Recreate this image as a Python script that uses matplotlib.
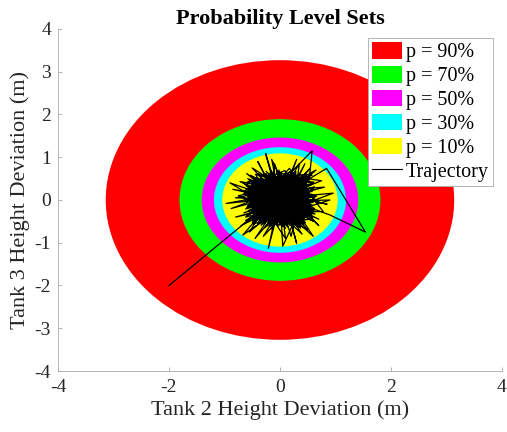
import matplotlib
matplotlib.use("Agg")
import matplotlib.pyplot as plt
from matplotlib.patches import Ellipse, Patch
from matplotlib.lines import Line2D

plt.rcParams['font.family'] = ['Liberation Serif', 'DejaVu Serif']
plt.rcParams['axes.unicode_minus'] = False

# Level sets: probability label, colour, semi-axis x, semi-axis y
levels = ["p = 90%", "p = 70%", "p = 50%", "p = 30%", "p = 10%"]
level_colors = ["#ff0000", "#00ff00", "#ff00ff", "#00ffff", "#ffff00"]
semi_x = [3.14, 1.81, 1.41, 1.19, 1.04]
semi_y = [3.27, 1.89, 1.46, 1.235, 1.09]

xticks = [-4, -2, 0, 2, 4]
yticks = [-4, -3, -2, -1, 0, 1, 2, 3, 4]

trajectory_points = [
    (-2.00, -2.00), (-0.55, -0.45), (-0.45, -0.38), (0.12, 0.31), (-0.28, 0.05), (0.41, -0.22), (-0.09, 0.47),
    (0.33, 0.18), (-0.52, -0.11), (0.07, -0.49), (0.26, 0.39), (-0.36, 0.22), (0.48, 0.02), (-0.14, -0.33),
    (0.19, 0.55), (-0.41, 0.35), (0.55, -0.31), (-0.05, 0.12), (-0.31, -0.52), (0.38, 0.44), (-0.58, 0.08),
    (0.15, -0.21), (0.02, 0.61), (-0.22, -0.08), (0.61, 0.25), (-0.47, -0.29), (0.28, -0.56), (-0.11, 0.36),
    (0.44, -0.09), (-0.33, 0.51), (0.09, -0.35), (0.52, 0.37), (-0.62, -0.21), (0.21, 0.08), (-0.18, 0.63),
    (0.35, -0.41), (-0.39, 0.14), (0.04, -0.62), (0.47, 0.52), (-0.27, -0.44), (0.58, -0.12), (-0.08, 0.28),
    (-0.51, 0.41), (0.31, -0.27), (-0.02, -0.15), (0.42, 0.29), (-0.35, -0.05), (0.17, 0.46), (-0.24, -0.61),
    (0.63, 0.05), (-0.43, 0.27), (0.11, -0.43), (-0.26, 1.09), (-0.12, 0.42), (0.24, 0.70), (0.58, 1.15),
    (0.53, 0.51), (-0.16, -0.24), (0.36, 0.02), (-0.49, -0.47), (0.06, 0.33), (0.45, -0.47), (-0.30, 0.30),
    (0.22, -0.12), (-0.57, 0.21), (0.13, 0.58), (0.54, -0.18), (-0.20, -0.55), (0.39, 0.35), (-0.44, 0.02),
    (0.01, -0.30), (0.29, 0.61), (-0.37, -0.33), (0.57, 0.14), (-0.10, -0.58), (0.18, 0.24), (-0.53, 0.46),
    (0.46, -0.36), (-0.07, 0.05), (0.32, -0.60), (-0.29, 0.58), (0.60, 0.40), (-0.60, -0.36), (0.08, 0.14),
    (0.84, 0.74), (1.54, -0.75), (0.90, -0.35), (0.27, -0.05), (-0.42, 0.48), (0.16, -0.37), (-0.23, 0.19),
    (0.50, 0.23), (-0.15, -0.47), (0.37, 0.51), (-0.64, 0.01), (0.10, -0.08), (-0.32, -0.23), (0.23, 0.44),
    (0.59, -0.43), (-0.46, 0.17), (0.05, 0.54), (-0.19, -0.39), (0.43, 0.10), (-0.97, -0.08), (-0.38, 0.06),
    (0.20, -0.51), (-0.06, 0.38), (0.49, -0.02), (-0.54, -0.42), (0.14, 0.20), (-0.25, 0.67), (0.34, -0.20),
    (-0.40, -0.16), (0.62, 0.31), (-0.03, -0.45), (0.25, 0.15), (-0.48, 0.32), (0.40, -0.53), (-0.13, 0.09),
    (0.53, 0.47), (-0.34, -0.59), (0.03, 0.26), (-0.72, 0.43), (-0.21, 0.11), (0.30, -0.34), (-0.56, -0.02),
    (0.18, 0.66), (0.47, -0.25), (-0.09, -0.18), (0.36, 0.38), (-0.45, -0.51), (0.11, 0.45), (-0.21, -1.13),
    (-0.08, -0.36), (0.26, 0.27), (-0.61, 0.25), (0.56, -0.06), (-0.17, 0.50), (0.06, -0.56), (0.41, 0.58),
    (-0.36, -0.30), (0.00, 0.18), (0.55, 0.19), (-0.28, -0.12), (0.15, -0.64), (-0.50, 0.55), (0.32, 0.06),
    (-0.67, -0.82), (-0.30, -0.26), (0.22, 0.36), (-0.12, -0.02), (0.64, -0.27), (-0.42, 0.40), (0.09, 0.69),
    (0.44, -0.42), (-0.26, -0.49), (0.28, 0.48), (-0.59, -0.14), (0.13, -0.27), (-0.04, 0.57), (0.50, 0.34),
    (-0.33, 0.01), (0.96, 0.16), (0.24, -0.19), (-0.47, -0.56), (0.07, 0.39), (0.37, -0.66), (-0.22, 0.33),
    (0.58, 0.58), (-0.55, 0.12), (0.19, -0.02), (-0.16, -0.68), (0.40, 0.22), (-0.39, 0.61), (0.03, -0.10),
    (0.61, -0.50), (-0.63, 0.36), (0.27, 0.62), (-0.10, -0.26), (0.48, 0.12), (0.05, -1.08), (0.02, -0.41),
    (-0.30, 0.44), (0.35, -0.11), (-0.52, -0.31), (0.12, 0.52), (0.57, -0.34), (-0.19, 0.24), (0.21, -0.45),
    (-0.44, -0.07), (0.46, 0.44), (-0.06, 0.66), (0.30, -1.01), (0.16, -0.33), (-0.35, 0.16), (0.52, -0.14),
    (-0.58, 0.50), (0.08, -0.20), (-0.27, -0.64), (0.39, 0.30), (-0.13, 0.31), (0.66, 0.09), (-0.49, -0.24),
    (0.17, 0.74), (0.78, -0.27), (0.26, -0.28), (-0.41, 0.25), (0.01, 0.44), (0.43, -0.58), (-0.23, -0.17),
    (0.55, 0.28), (-0.65, -0.30), (0.10, 0.03), (-0.85, 0.25), (-0.31, 0.09), (0.33, 0.53), (-0.11, -0.50),
    (0.45, 0.85), (0.20, 0.17), (-0.50, 0.75), (-0.24, 0.38), (0.38, -0.24), (-0.37, -0.45), (0.04, 0.30),
    (0.70, -0.60), (0.29, -0.07), (-0.80, -0.40), (-0.26, -0.20), (0.14, 0.57), (0.75, 0.45), (0.31, 0.23),
    (-0.45, -0.90), (-0.14, -0.31), (-0.10, 0.85), (0.06, 0.21), (0.60, -0.85), (0.22, -0.40), (0.35, 0.85),
    (0.12, 0.35), (-0.75, 0.10), (-0.34, -0.10), (0.50, -0.70), (0.18, -0.23), (-0.60, 0.62), (-0.17, 0.20),
    (0.85, -0.10), (0.36, 0.07), (-0.30, -0.85), (-0.05, -0.32), (0.30, 0.95), (0.08, 0.27), (-0.88, -0.20),
    (-0.40, -0.03), (0.65, 0.70), (0.25, 0.26), (-0.70, -0.60), (-0.22, -0.28), (0.10, -0.90), (0.03, -0.17),
    (-0.40, 0.90), (-0.12, 0.22), (0.80, 0.30), (0.40, 0.16), (0.20, -0.85), (0.09, -0.38), (-0.90, 0.40),
    (-0.32, 0.14), (0.70, -0.45), (0.29, -0.18), (-0.15, 0.95), (-0.05, 0.33), (-0.55, -0.75), (-0.20, -0.35),
    (0.55, 0.75), (0.22, 0.31), (-0.80, 0.05), (-0.28, 0.03), (0.40, -0.80), (0.14, -0.31), (0.90, 0.00),
    (0.33, -0.02), (-0.62, -0.48), (0.00, 0.00), (0.27, 0.43), (-0.40, 0.33), (0.46, -0.30), (-0.18, -0.42),
    (0.11, 0.11), (-0.48, 0.07), (0.34, -0.46), (-0.07, 0.50), (0.51, 0.06), (-0.29, -0.36), (0.19, 0.40),
    (-0.53, 0.28), (0.42, -0.16), (-0.01, -0.52), (0.24, 0.54), (-0.37, -0.19), (0.57, 0.36), (-0.15, 0.06),
    (0.07, -0.27), (-0.43, 0.53), (0.47, -0.05), (-0.23, -0.57), (0.16, 0.28), (0.00, -0.05),
    (-0.46, 0.44), (0.38, -0.35), (-0.12, 0.58), (0.23, -0.50), (-0.52, 0.02), (0.49, 0.41), (-0.21, -0.46),
    (0.09, 0.60), (0.44, -0.19), (-0.57, -0.25), (0.31, 0.34), (-0.03, -0.61), (-0.36, 0.38), (0.60, -0.05),
    (-0.25, -0.30), (0.15, 0.48), (-0.49, 0.19), (0.37, -0.57), (-0.10, 0.14), (0.52, 0.55), (-0.40, -0.55),
    (0.05, 0.37), (-0.60, 0.32), (0.27, -0.43), (-0.18, 0.45), (0.45, 0.03), (-0.33, -0.47), (0.20, 0.62),
    (-0.55, -0.08), (0.41, -0.41), (-0.06, 0.26), (0.58, 0.20), (-0.44, 0.60), (0.12, -0.58), (-0.29, 0.17),
    (0.34, 0.47), (-0.62, -0.40), (0.25, -0.10), (-0.16, 0.68), (0.54, -0.38), (-0.38, -0.12), (0.02, 0.49),
    (0.43, 0.31), (-0.50, -0.52), (0.17, -0.15), (-0.27, 0.55), (0.62, -0.20), (-0.08, -0.40), (0.30, 0.10),
    (-0.45, 0.26), (0.10, -0.66), (-0.20, 0.04), (0.48, 0.60), (-0.58, 0.43), (0.21, -0.30), (-0.02, 0.70),
    (0.39, -0.48), (-0.34, -0.38), (0.56, 0.09), (-0.13, 0.35), (0.07, -0.48), (-0.47, -0.18), (0.28, 0.58),
    (-0.66, 0.14), (0.36, -0.28), (-0.19, -0.62), (0.50, 0.46), (-0.31, 0.26), (0.14, 0.01), (-0.53, 0.58),
    (0.46, -0.53), (-0.05, -0.22), (0.26, 0.42), (-0.42, -0.29), (0.61, 0.42), (-0.24, 0.48), (0.00, -0.58),
    (0.33, 0.20), (-0.59, -0.03), (0.18, 0.53), (-0.37, 0.09), (0.53, -0.27), (-0.14, -0.55), (0.40, 0.38),
    (-0.51, 0.36), (0.08, -0.34), (-0.26, 0.62), (0.58, -0.46), (-0.43, -0.44), (0.23, 0.25), (-0.09, 0.08),
    (0.35, -0.64), (-0.64, 0.22), (0.44, 0.54), (-0.30, -0.56), (0.12, 0.42), (-0.48, 0.47), (0.51, -0.12),
    (-0.17, -0.37), (0.29, 0.66), (-0.56, -0.33), (0.04, 0.17), (-0.35, 0.52), (0.63, -0.33), (-0.22, -0.13),
    (0.19, -0.60), (-0.41, 0.41), (0.47, 0.24), (-0.11, -0.60), (0.32, 0.50), (-0.60, -0.18), (0.00, 0.00),
]
traj_x = [p[0] for p in trajectory_points]
traj_y = [p[1] for p in trajectory_points]

fig = plt.figure(figsize=(5.07, 4.32), dpi=100)
ax = fig.add_axes([0.1144, 0.1412, 0.8756, 0.7917])

for lab, col, a, b in zip(levels, level_colors, semi_x, semi_y):
    ax.add_patch(Ellipse((0, 0), 2 * a, 2 * b, facecolor=col, edgecolor='none', zorder=1))

ax.plot(traj_x, traj_y, color='black', lw=0.9, zorder=3)

ax.set_xlim(-4, 4)
ax.set_ylim(-4, 4)
ax.set_xticks(xticks)
ax.set_yticks(yticks)
ax.tick_params(direction='in', length=3, width=0.6, colors='#aaaaaa', labelcolor='#262626',
               labelsize=14)
ax.tick_params(axis='x', pad=6)
ax.tick_params(axis='y', pad=5)
for s in ['top', 'right']:
    ax.spines[s].set_visible(False)
for s in ['left', 'bottom']:
    ax.spines[s].set_color('#aaaaaa')
    ax.spines[s].set_linewidth(0.6)

ax.set_xlabel("Tank 2 Height Deviation (m)", fontsize=16, color='#262626', labelpad=3)
ax.set_ylabel("Tank 3 Height Deviation (m)", fontsize=16, color='#262626', labelpad=3)
ax.set_title("Probability Level Sets", fontsize=16, fontweight='bold', pad=3)

handles = [Patch(facecolor=c, edgecolor='none') for c in level_colors]
handles.append(Line2D([0], [0], color='black', lw=0.8))
leg = ax.legend(handles, levels + ["Trajectory"], loc='upper right', bbox_to_anchor=(0.98, 0.974),
                borderaxespad=0, fontsize=14.5, handlelength=1.5, handleheight=0.9, handletextpad=0.2,
                labelspacing=0.18, borderpad=0.2, frameon=True, fancybox=False, framealpha=1)
leg.get_frame().set_edgecolor('#aaaaaa')
leg.get_frame().set_linewidth(0.6)

fig.savefig("out.png", dpi=100)
